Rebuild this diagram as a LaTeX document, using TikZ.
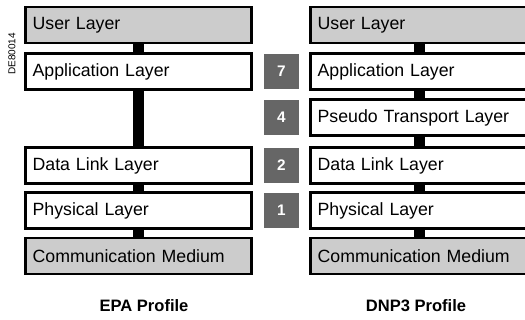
\documentclass[tikz,border=0pt]{standalone}
\usepackage{fontspec}
\setmainfont{Liberation Sans}
\definecolor{layergrey}{HTML}{CCCCCC}
\definecolor{numgrey}{HTML}{666666}
\begin{document}
\begin{tikzpicture}[x=0.75pt,y=-0.75pt,
  layer/.style={draw=black, line width=1.9pt, fill=white, minimum height=27pt,
    inner xsep=5.5pt, inner ysep=0pt, align=left,
    font=\fontsize{13.3}{15}\selectfont},
  leftlayer/.style={layer, text width=171.75pt-11pt-1.9pt},
  rightlayer/.style={layer, text width=165.75pt-11pt-1.9pt},
  outer/.style={fill=layergrey},
  bar/.style={line width=7.8pt, black},
  num/.style={fill=numgrey, text=white, minimum width=26pt, minimum height=26pt,
    inner sep=0pt, font=\fontsize{11.5}{13}\selectfont\bfseries},
  title/.style={font=\fontsize{12.4}{14}\selectfont\bfseries}]
  \useasboundingbox (0,0) rectangle (525,320);

  % EPA stack
  \node[leftlayer, outer] (eu) at (138.5,25)    {User Layer};
  \node[leftlayer]        (ea) at (138.5,71.5)  {Application Layer};
  \node[leftlayer]        (ed) at (138.5,165.5) {Data Link Layer};
  \node[leftlayer]        (ep) at (138.5,210.5) {Physical Layer};
  \node[leftlayer, outer] (em) at (138.5,256)   {Communication Medium};

  % DNP3 stack
  \node[rightlayer, outer] (du) at (419.5,25)    {User Layer};
  \node[rightlayer]        (da) at (419.5,71.5)  {Application Layer};
  \node[rightlayer]        (dt) at (419.5,117.5) {Pseudo Transport Layer};
  \node[rightlayer]        (dd) at (419.5,165.5) {Data Link Layer};
  \node[rightlayer]        (dp) at (419.5,210.5) {Physical Layer};
  \node[rightlayer, outer] (dm) at (419.5,256)   {Communication Medium};

  % links between layers
  \draw[bar] (eu.south) -- (ea.north);
  \draw[bar] (ea.south) -- (ed.north);
  \draw[bar] (ed.south) -- (ep.north);
  \draw[bar] (ep.south) -- (em.north);
  \draw[bar] (du.south) -- (da.north);
  \draw[bar] (da.south) -- (dt.north);
  \draw[bar] (dt.south) -- (dd.north);
  \draw[bar] (dd.south) -- (dp.north);
  \draw[bar] (dp.south) -- (dm.north);

  % OSI layer numbers
  \node[num] (n7) at (281.5,71.5)  {7};
  \node[num] (n4) at (281.5,117.5) {4};
  \node[num] (n2) at (281.5,165.5) {2};
  \node[num] (n1) at (281.5,210.5) {1};

  % profile names
  \node[title] (ept) at (144,306) {EPA Profile};
  \node[title] (dpt) at (416,306) {DNP3 Profile};

  % drawing reference
  \node[rotate=90, font=\fontsize{7.5}{9}\selectfont] (ref) at (12,54) {DE80014};
\end{tikzpicture}
\end{document}
